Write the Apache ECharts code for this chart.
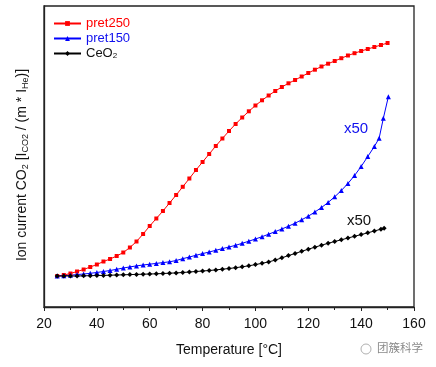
<!DOCTYPE html>
<html><head><meta charset="utf-8">
<script src="https://cdn.jsdelivr.net/npm/echarts@6/dist/echarts.min.js"></script>
<style>html,body{margin:0;padding:0;background:#fff}#c{width:436px;height:367px}</style>
</head><body><div id="c"></div>
<script>
// Temperatures (°C)
const tempsRed = [25,27.5,30,32.5,35,37.5,40,42.5,45,47.5,50,52.5,55,57.5,60,62.5,65,67.5,70,72.5,75,77.5,80,82.5,85,87.5,90,92.5,95,97.5,100,102.5,105,107.5,110,112.5,115,117.5,120,122.5,125,127.5,130,132.5,135,137.5,140,142.5,145,147.5,150];
const tempsBlue = [25,27.5,30,32.5,35,37.5,40,42.5,45,47.5,50,52.5,55,57.5,60,62.5,65,67.5,70,72.5,75,77.5,80,82.5,85,87.5,90,92.5,95,97.5,100,102.5,105,107.5,110,112.5,115,117.5,120,122.5,125,127.5,130,132.5,135,137.5,140,142.5,145,146.8,148.4,150.3];
const tempsBlack = [25,27.5,30,32.5,35,37.5,40,42.5,45,47.5,50,52.5,55,57.5,60,62.5,65,67.5,70,72.5,75,77.5,80,82.5,85,87.5,90,92.5,95,97.5,100,102.5,105,107.5,110,112.5,115,117.5,120,122.5,125,127.5,130,132.5,135,137.5,140,142.5,145,147.5,148.7];
// Ion current (arbitrary units)
const pret250 = [31,32,33.5,35.5,37.5,40,42.5,45.5,48,51,54.5,59.5,65.5,73,81,88.5,96,104,112,120.2,128.5,137,145,153,161,168.5,176,183,189.5,195.7,201.5,206.7,211.5,216,220,223.7,227,230.5,234,237.3,240.5,243.3,246,248.8,251.5,253.8,256,258,260,262,264];
const pret150 = [31,31.3,31.8,32.4,33,33.7,34.5,35.5,36.5,37.7,39,40.1,41.1,42,42.8,43.6,44.4,45.2,46.5,48.3,50,51.7,53.4,55,56.7,58.4,60,61.7,63.7,65.8,68,70.3,72.8,75.4,78,80.8,83.8,87.2,90.8,95,99.5,104.5,110.2,116.5,123.5,131.5,140.5,150.5,160.5,168.7,188.7,210.3];
const ceo2 = [31,31,31,31,31.2,31.3,31.5,31.6,31.8,32,32.2,32.4,32.6,32.8,33,33.2,33.5,33.8,34.1,34.5,35,35.5,36,36.5,37.1,37.8,38.5,39.3,40.2,41.2,42.4,43.7,45.1,46.9,49.2,51.4,53.5,55.7,57.8,59.8,61.8,63.7,65.5,67.2,69,70.7,72.4,74.2,76,77.8,78.7];
const seriesNames = ['pret250','pret150','CeO2'];
const xTicks = [20,40,60,80,100,120,140,160];

const FONT = "'Liberation Sans', Arial, sans-serif";
const pair = (t, v) => t.map((x, i) => [x, v[i]]);

const chart = echarts.init(document.getElementById('c'), null, {renderer: 'canvas'});
chart.setOption({
  animation: false,
  backgroundColor: '#fff',
  grid: {left: 44, right: 22, top: 6, bottom: 60, show: true, borderColor: '#222', borderWidth: 1.3},
  xAxis: {
    type: 'value', min: xTicks[0], max: xTicks[xTicks.length - 1], interval: 20,
    name: 'Temperature [°C]', nameLocation: 'middle', nameGap: 36,
    nameTextStyle: {fontFamily: FONT, fontSize: 14, color: '#111'},
    axisLine: {show: true, lineStyle: {color: '#222', width: 1.3}},
    axisTick: {show: true, length: 4, lineStyle: {color: '#222'}},
    minorTick: {show: true, splitNumber: 2, length: 3, lineStyle: {color: '#222'}},
    axisLabel: {fontFamily: FONT, fontSize: 14, color: '#111', margin: 10},
    splitLine: {show: false}
  },
  yAxis: {
    type: 'value', min: 0, max: 301,
    name: 'Ion current CO{s|2} [I{s|CO2} / (m * I{s|He})]',
    nameLocation: 'middle', nameRotate: 90, nameGap: 14,
    nameTextStyle: {fontFamily: FONT, fontSize: 14, color: '#111', padding: [0, 17, 0, 0],
      rich: {s: {fontFamily: FONT, fontSize: 9, color: '#111', verticalAlign: 'bottom', padding: [6, 0, 0, 0]}}},
    axisLine: {show: true, lineStyle: {color: '#222', width: 1.3}},
    axisTick: {show: false}, axisLabel: {show: false}, splitLine: {show: false}
  },
  legend: {
    orient: 'vertical', left: 53, top: 16.5, padding: 0, itemWidth: 27, itemHeight: 6, itemGap: 1,
    data: [
      {name: 'pret250', textStyle: {color: '#ff0000'}},
      {name: 'pret150', textStyle: {color: '#1010ee'}},
      {name: 'CeO2', textStyle: {color: '#111'}}
    ],
    formatter: function (n) { return n === 'CeO2' ? 'CeO{s|2}' : n; },
    textStyle: {fontFamily: FONT, fontSize: 13, lineHeight: 14,
      rich: {s: {fontFamily: FONT, fontSize: 8, lineHeight: 14, color: '#111', padding: [5, 0, 0, 0]}}}
  },
  series: [
    {name: seriesNames[0], type: 'line', data: pair(tempsRed, pret250), symbol: 'rect', symbolSize: 4,
      itemStyle: {color: '#ff0000'}, lineStyle: {color: '#ff0000', width: 1}},
    {name: seriesNames[1], type: 'line', data: pair(tempsBlue, pret150), symbol: 'triangle', symbolSize: 5,
      itemStyle: {color: '#0000ff'}, lineStyle: {color: '#0000ff', width: 1}},
    {name: seriesNames[2], type: 'line', data: pair(tempsBlack, ceo2), symbol: 'diamond', symbolSize: 5,
      itemStyle: {color: '#000'}, lineStyle: {color: '#000', width: 1}}
  ],
  graphic: [
    {type: 'text', left: 344, top: 121, style: {text: 'x50', fill: '#1010ee', font: "15px 'Liberation Sans', Arial"}},
    {type: 'text', left: 347, top: 213, style: {text: 'x50', fill: '#111', font: "15px 'Liberation Sans', Arial"}},
    {type: 'circle', shape: {cx: 366, cy: 349, r: 5}, style: {fill: 'none', stroke: '#b0b0b0', lineWidth: 1}},
    {type: 'text', left: 377, top: 342, style: {text: '团簇科学', fill: '#8a8a8a', font: "11.5px 'Noto Sans CJK SC'"}}
  ]
});
</script></body></html>
